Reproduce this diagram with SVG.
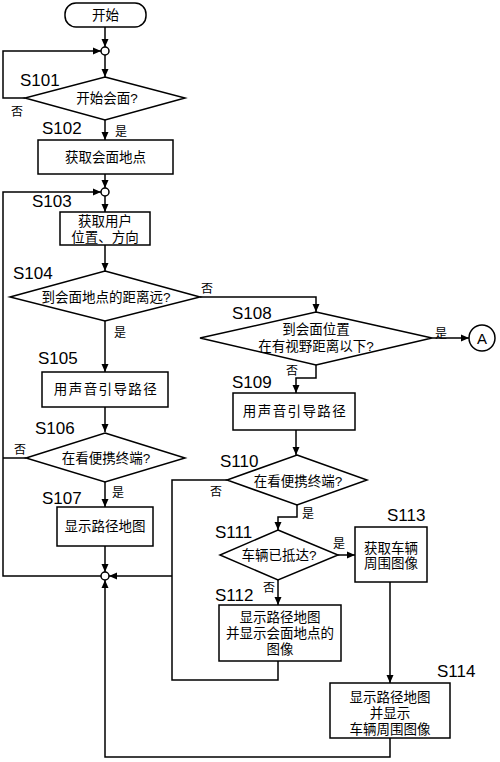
<svg xmlns="http://www.w3.org/2000/svg" width="500" height="762" viewBox="0 0 500 762">
<style>
.n{fill:#fff;stroke:#000;stroke-width:1.5}
.t{font-family:"Liberation Sans","Noto Sans CJK SC",sans-serif;font-size:13.5px;fill:#000;text-anchor:middle;dominant-baseline:central}
.w{letter-spacing:1.4px}
.s{font-family:"Liberation Sans",Arial,sans-serif;font-size:17px;fill:#000}
.y{font-family:"Noto Sans CJK SC",sans-serif;font-size:12px;fill:#000;text-anchor:middle;dominant-baseline:central}
.c{fill:none;stroke:#000;stroke-width:1.5}
.a{marker-end:url(#ah)}
</style>
<defs>
<marker id="ah" markerUnits="userSpaceOnUse" markerWidth="8" markerHeight="8" refX="8" refY="4" orient="auto">
<path d="M0,0.5 L8,4 L0,7.5 z" fill="#000"/>
</marker>
</defs>
<g id="connectors">
<path class="c a" d="M105,27 V47"/>
<path class="c a" d="M105,55 V77"/>
<path class="c a" d="M25,98 H3 V51 H101"/>
<path class="c a" d="M105,120 V140"/>
<path class="c a" d="M105,174 V188"/>
<path class="c a" d="M105,196 V212"/>
<path class="c a" d="M105,245 V271"/>
<path class="c a" d="M105,321 V372"/>
<path class="c a" d="M105,407 V432"/>
<path class="c a" d="M105,482 V507"/>
<path class="c a" d="M105,546 V572"/>
<path class="c" d="M26,458 H3"/>
<path class="c a" d="M101,576 H3 V192 H101"/>
<path class="c a" d="M200,297 H316 V312"/>
<path class="c a" d="M432,338 H469"/>
<path class="c a" d="M316,365 V378 H296 V393"/>
<path class="c a" d="M296,430 V455"/>
<path class="c a" d="M297,505 V517 H278 V530"/>
<path class="c" d="M227,480 H172 V680 H278 V661"/>
<path class="c a" d="M172,576 H109"/>
<path class="c a" d="M338,555 H355"/>
<path class="c a" d="M278,580 V605"/>
<path class="c a" d="M390,582 V683"/>
<path class="c a" d="M390,738 V757 H105 V580"/>
</g>
<g id="start">
<rect class="n" x="65" y="3" width="81" height="24" rx="11"/>
<text class="t" x="105.5" y="15">开始</text>
</g>
<g id="j1"><circle class="n" cx="105" cy="51" r="4"/></g>
<g id="j2"><circle class="n" cx="105" cy="192" r="4"/></g>
<g id="j3"><circle class="n" cx="105" cy="576" r="4"/></g>
<g id="S101">
<polygon class="n" points="105,77 185,98 105,120 25,98"/>
<text class="t" x="107" y="98">开始会面?</text>
<text class="s" x="20" y="86">S101</text>
<text class="y" x="17" y="110">否</text>
<text class="y" x="121" y="130">是</text>
</g>
<g id="S102">
<rect class="n" x="38" y="140" width="135" height="34"/>
<text class="t" x="105.5" y="157">获取会面地点</text>
<text class="s" x="42" y="134">S102</text>
</g>
<g id="S103">
<rect class="n" x="60" y="212" width="90" height="33"/>
<text class="t" x="105" y="221">获取用户</text>
<text class="t" x="105" y="237">位置、方向</text>
<text class="s" x="32" y="207">S103</text>
</g>
<g id="S104">
<polygon class="n" points="105,271 200,297 105,321 10,297"/>
<text class="t" x="106" y="297">到会面地点的距离远?</text>
<text class="s" x="13" y="279">S104</text>
<text class="y" x="207" y="287">否</text>
<text class="y" x="120" y="331">是</text>
</g>
<g id="S105">
<rect class="n" x="42" y="372" width="126" height="35"/>
<text class="t w" x="106" y="389.5">用声音引导路径</text>
<text class="s" x="38" y="364">S105</text>
</g>
<g id="S106">
<polygon class="n" points="105,433 185,458 105,482 26,458"/>
<text class="t" x="106" y="458">在看便携终端?</text>
<text class="s" x="35" y="434">S106</text>
<text class="y" x="20" y="448">否</text>
<text class="y" x="118" y="491">是</text>
</g>
<g id="S107">
<rect class="n" x="57" y="507" width="96" height="39"/>
<text class="t" x="105" y="526.5">显示路径地图</text>
<text class="s" x="42" y="504">S107</text>
</g>
<g id="S108">
<polygon class="n" points="316,312 432,338 316,365 200,338"/>
<text class="t" x="316" y="329">到会面位置</text>
<text class="t" x="316" y="346">在有视野距离以下?</text>
<text class="s" x="232" y="319">S108</text>
<text class="y" x="441" y="332">是</text>
<text class="y" x="292" y="369">否</text>
</g>
<g id="A">
<circle class="n" cx="482" cy="338" r="13"/>
<text class="t" x="482" y="338" style="font-size:15px">A</text>
</g>
<g id="S109">
<rect class="n" x="233" y="393" width="122" height="37"/>
<text class="t w" x="295" y="411.5">用声音引导路径</text>
<text class="s" x="232" y="388">S109</text>
</g>
<g id="S110">
<polygon class="n" points="297,455 367,480 297,505 227,480"/>
<text class="t" x="298" y="481">在看便携终端?</text>
<text class="s" x="220" y="467">S110</text>
<text class="y" x="216" y="490">否</text>
<text class="y" x="308" y="512">是</text>
</g>
<g id="S111">
<polygon class="n" points="278,530 338,555 278,580 220,555"/>
<text class="t" x="279" y="555">车辆已抵达?</text>
<text class="s" x="215" y="538">S111</text>
<text class="y" x="339" y="542">是</text>
<text class="y" x="269" y="586">否</text>
</g>
<g id="S112">
<rect class="n" x="219" y="605" width="122" height="56"/>
<text class="t" x="280" y="617">显示路径地图</text>
<text class="t" x="280" y="633">并显示会面地点的</text>
<text class="t" x="280" y="649">图像</text>
<text class="s" x="215" y="601">S112</text>
</g>
<g id="S113">
<rect class="n" x="355" y="527" width="72" height="55"/>
<text class="t" x="391" y="548">获取车辆</text>
<text class="t" x="391" y="563">周围图像</text>
<text class="s" x="387" y="521">S113</text>
</g>
<g id="S114">
<rect class="n" x="330" y="683" width="120" height="55"/>
<text class="t" x="390" y="697">显示路径地图</text>
<text class="t" x="390" y="713">并显示</text>
<text class="t" x="390" y="729">车辆周围图像</text>
<text class="s" x="437" y="677">S114</text>
</g>
</svg>
